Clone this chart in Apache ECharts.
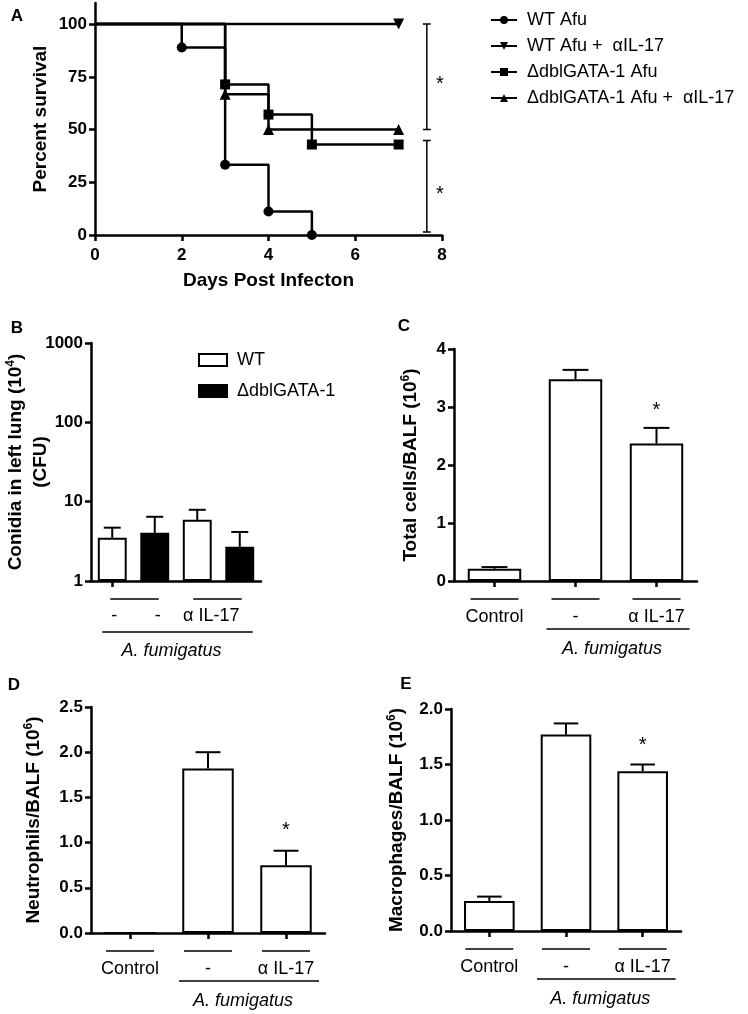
<!DOCTYPE html>
<html><head><meta charset="utf-8">
<script src="https://cdn.jsdelivr.net/npm/echarts@6/dist/echarts.min.js"></script>
<style>html,body{margin:0;padding:0;background:#fff}#c{width:748px;height:1014px}</style>
</head><body><div id="c"></div>
<script>
// ---------- DATA ----------
// Panel A: Kaplan-Meier survival (day, percent survival)
const survNames = ['WT Afu', 'WT Afu +  \u03B1IL-17', '\u0394dblGATA-1 Afu', '\u0394dblGATA-1 Afu +  \u03B1IL-17'];
const wtAfu = [[0, 100], [2, 88.9], [3, 33.3], [4, 11.1], [5, 0]];
const wtAfuAnti = [[0, 100], [7, 100]];
const gataAfu = [[0, 100], [3, 71.4], [4, 57.1], [5, 42.9], [7, 42.9]];
const gataAfuAnti = [[0, 100], [3, 66.7], [4, 50], [7, 50]];
const survXTicks = [0, 2, 4, 6, 8];
const survYTicks = [0, 25, 50, 75, 100];
const survBrackets = [[100, 50], [44.8, 1.4]]; // significance brackets (percent span)

// Panel B: conidia (log scale)
const cfuCats = ['WT -', 'GATA -', 'WT aIL-17', 'GATA aIL-17'];
const cfuWT = [3.5, null, 5.9, null];
const cfuGATA = [null, 4.05, null, 2.7];
const cfuErrTop = [4.7, 6.45, 7.9, 4.15];
const cfuLegend = ['WT', '\u0394dblGATA-1'];
const cfuTicks = [1, 10, 100, 1000];

// Panels C-E
const cellCats = ['Control', '-', '\u03B1 IL-17'];
const totalCells = [0.21, 3.48, 2.37];
const totalErrTop = [0.24, 3.64, 2.64];
const neutrophils = [0, 1.82, 0.75];
const neutErrTop = [0, 2.0, 0.91];
const macrophages = [0.27, 1.77, 1.44];
const macErrTop = [0.31, 1.87, 1.50];
const cellSig = [0, 0, 1];

// ---------- STYLE ----------
const F = '"Liberation Sans", Arial, Helvetica, sans-serif';
const AX = {show: true, lineStyle: {color: '#000', width: 2.5}};
const TICK = {show: true, length: 6, lineStyle: {color: '#000', width: 2.5}};
const TL = {color: '#000', fontFamily: F, fontWeight: 'bold', fontSize: 17};
const NAME = {color: '#000', fontFamily: F, fontWeight: 'bold', fontSize: 19};
const RICH = {
  t: {color: '#000', fontFamily: F, fontWeight: 'bold', fontSize: 19},
  s: {color: '#000', fontFamily: F, fontWeight: 'bold', fontSize: 12, padding: [0, 0, 10, 0]}
};

const chart = echarts.init(document.getElementById('c'), null, {renderer: 'canvas'});

const grids = [
  {left: 95, top: 3, width: 347, height: 232},
  {left: 91, top: 343, width: 170, height: 238},
  {left: 454, top: 349, width: 243, height: 232},
  {left: 91, top: 707, width: 234, height: 226},
  {left: 451, top: 709, width: 230, height: 222}
].map(g => Object.assign({containLabel: false, outerBoundsMode: 'none'}, g));

function valY(gi, min, max, interval, name, gap, fmt) {
  return {type: 'value', gridIndex: gi, min, max, interval,
    axisLine: AX, axisTick: TICK, splitLine: {show: false},
    axisLabel: Object.assign({margin: 8, formatter: fmt || (v => String(v))}, TL),
    name, nameLocation: 'middle', nameGap: gap, nameRotate: 90,
    nameTextStyle: {rich: RICH}};
}
function catX(gi, cats, showLabel) {
  return {type: 'category', gridIndex: gi, data: cats,
    axisLine: AX, axisTick: Object.assign({alignWithLabel: true}, TICK),
    axisLabel: {show: showLabel, margin: 27, color: '#000', fontFamily: F, fontSize: 18}};
}

const xAxes = [
  {type: 'value', gridIndex: 0, min: 0, max: 8, interval: 2,
   axisLine: AX, axisTick: TICK, splitLine: {show: false},
   axisLabel: Object.assign({margin: 12}, TL),
   name: 'Days Post Infecton', nameLocation: 'middle', nameGap: 36, nameTextStyle: NAME},
  catX(1, cfuCats, false),
  catX(2, cellCats, true),
  catX(3, cellCats, true),
  catX(4, cellCats, true)
];
const yAxes = [
  {type: 'value', gridIndex: 0, min: 0, max: 110,
   axisLine: AX, axisTick: Object.assign({customValues: survYTicks}, TICK), splitLine: {show: false},
   axisLabel: Object.assign({margin: 8, customValues: survYTicks}, TL),
   name: 'Percent survival', nameLocation: 'middle', nameGap: 45, nameRotate: 90, nameTextStyle: NAME},
  {type: 'log', logBase: 10, gridIndex: 1, min: 1, max: 1000,
   axisLine: AX, axisTick: TICK, splitLine: {show: false}, minorTick: {show: false},
   axisLabel: Object.assign({margin: 8, formatter: v => String(Math.round(v))}, TL),
   name: '{t|Conidia in left lung (10}{s|4}{t|)}\n{t|(CFU)}', nameLocation: 'middle', nameGap: 38, nameRotate: 90,
   nameMoveOverlap: false,
   nameTextStyle: {rich: RICH, lineHeight: 25}},
  valY(2, 0, 4, 1, '{t|Total cells/BALF (10}{s|6}{t|)}', 32),
  valY(3, 0, 2.5, 0.5, '{t|Neutrophils/BALF (10}{s|6}{t|)}', 46, v => v.toFixed(1)),
  valY(4, 0, 2, 0.5, '{t|Macrophages/BALF (10}{s|6}{t|)}', 43, v => v.toFixed(1))
];

// Kaplan-Meier series
const symbols = [['circle', 0, 10], ['triangle', 180, 11], ['rect', 0, 10], ['triangle', 0, 11]];
const kmSets = [wtAfu, wtAfuAnti, gataAfu, gataAfuAnti];
const series = [];
kmSets.forEach((set, k) => {
  series.push({
    type: 'line', name: survNames[k], xAxisIndex: 0, yAxisIndex: 0, step: 'end',
    symbol: symbols[k][0], symbolRotate: symbols[k][1], symbolSize: symbols[k][2],
    showAllSymbol: true, color: '#000', itemStyle: {color: '#000'},
    lineStyle: {color: '#000', width: 2.5}, z: 3,
    data: set.map((d, i) => i === 0 ? {value: d, symbol: 'none'} : d)
  });
});
// Significance brackets in panel A (drawn in data space)
const brX = 7.65, capHalf = 0.09;
survBrackets.forEach((b, k) => {
  series.push({
    type: 'line', name: 'bracket' + k, xAxisIndex: 0, yAxisIndex: 0, symbol: 'none',
    lineStyle: {color: '#000', width: 1.5}, silent: true,
    data: [[brX - capHalf, b[0]], [brX + capHalf, b[0]], [brX, b[0]], [brX, b[1]], [brX - capHalf, b[1]], [brX + capHalf, b[1]]]
  });
});

// Error bar renderer
function errRenderer(capFrac, starGap) {
  return function (params, api) {
    const i = api.value(0), v = api.value(1), e = api.value(2), s = api.value(3);
    if (!(e > v)) return;
    const p0 = api.coord([i, v]), p1 = api.coord([i, e]);
    const band = Math.abs(api.coord([1, e])[0] - api.coord([0, e])[0]);
    const hw = band * capFrac / 2;
    const children = [
      {type: 'line', shape: {x1: p0[0], y1: p0[1], x2: p1[0], y2: p1[1]}, style: {stroke: '#000', lineWidth: 2}},
      {type: 'line', shape: {x1: p1[0] - hw, y1: p1[1], x2: p1[0] + hw, y2: p1[1]}, style: {stroke: '#000', lineWidth: 2}}
    ];
    if (s) {
      children.push({type: 'text', x: p1[0], y: p1[1] - starGap,
        style: {text: '*', fill: '#000', font: '20px ' + F, textAlign: 'center', textVerticalAlign: 'middle', verticalAlign: 'middle'}});
    }
    return {type: 'group', children};
  };
}

// Panel B bars
const barStyleW = {color: '#fff', borderColor: '#000', borderWidth: 2};
const barStyleB = {color: '#000', borderColor: '#000', borderWidth: 2};
series.push({type: 'bar', name: cfuLegend[0], xAxisIndex: 1, yAxisIndex: 1, barWidth: '68%', barGap: '-100%',
  itemStyle: barStyleW, data: cfuWT.map(v => v == null ? '-' : v)});
series.push({type: 'bar', name: cfuLegend[1], xAxisIndex: 1, yAxisIndex: 1, barWidth: '68%', barGap: '-100%',
  itemStyle: barStyleB, data: cfuGATA.map(v => v == null ? '-' : v)});
series.push({type: 'custom', name: 'errB', xAxisIndex: 1, yAxisIndex: 1, z: 5,
  renderItem: errRenderer(0.4, 0),
  data: cfuErrTop.map((e, i) => [i, cfuWT[i] != null ? cfuWT[i] : cfuGATA[i], e, 0])});

// Panels C-E
[[totalCells, totalErrTop, 2, 17], [neutrophils, neutErrTop, 3, 20], [macrophages, macErrTop, 4, 19]].forEach(([vals, errs, ai, sg]) => {
  series.push({type: 'bar', name: 'bars' + ai, xAxisIndex: ai, yAxisIndex: ai, barWidth: '66%',
    itemStyle: barStyleW, data: vals});
  series.push({type: 'custom', name: 'err' + ai, xAxisIndex: ai, yAxisIndex: ai, z: 5,
    renderItem: errRenderer(0.32, sg),
    data: vals.map((v, i) => [i, v, errs[i], cellSig[i]])});
});

chart.setOption({
  animation: false,
  backgroundColor: '#fff',
  grid: grids,
  xAxis: xAxes,
  yAxis: yAxes,
  legend: [
    {data: survNames, orient: 'vertical', left: 490, top: 11, padding: 0, itemWidth: 26, itemHeight: 10, itemGap: 8,
     selectedMode: false, textStyle: {color: '#000', fontFamily: F, fontSize: 18, padding: [0, 0, 0, 5]}},
    {data: cfuLegend, orient: 'vertical', left: 198, top: 351, padding: 0, itemWidth: 28, itemHeight: 12, itemGap: 13,
     icon: 'rect', selectedMode: false, textStyle: {color: '#000', fontFamily: F, fontSize: 18, padding: [0, 0, 0, 5]}}
  ],
  series
});

// ---------- Annotations derived from the axes ----------
const G = [];
function txt(x, y, text, font, align) {
  G.push({type: 'text', x, y, silent: true,
    style: {text, fill: '#000', font, textAlign: align || 'center', textVerticalAlign: 'middle', verticalAlign: 'middle'}});
}
function ln(x1, y1, x2, y2, w) {
  G.push({type: 'line', silent: true, shape: {x1, y1, x2, y2}, style: {stroke: '#000', lineWidth: w || 1.5}});
}
const px = (gi, xv, yv) => chart.convertToPixel({gridIndex: gi}, [xv, yv]);
const bold16 = 'bold 17px ' + F, reg18 = '18px ' + F, reg20 = '20px ' + F, it18 = 'italic 18px ' + F;

// Panel letters
txt(17, 16, 'A', bold16); txt(17, 328, 'B', bold16); txt(404, 326, 'C', bold16);
txt(14, 685, 'D', bold16); txt(406, 684, 'E', bold16);

// Panel A stars
survBrackets.forEach(b => {
  const p = px(0, brX, (b[0] + b[1]) / 2);
  txt(p[0] + 13, p[1] + 8, '*', reg20);
});

// Panel B category decorations
{
  const base = px(1, 0, 1)[1];
  const xs = cfuCats.map((c, i) => px(1, i, 1)[0]);
  ln(xs[0] - 2, base + 18, xs[1] + 4, base + 18);
  ln(xs[2] - 4, base + 18, xs[3] + 2, base + 18);
  txt(xs[0] + 2, base + 35, '-', reg18);
  txt(xs[1] + 3, base + 35, '-', reg18);
  txt(xs[2] + (xs[3] - xs[2]) * 0.33, base + 35, '\u03B1 IL-17', reg18);
  const l1 = xs[0] - 10, l2 = xs[3] + 13;
  ln(l1, base + 51, l2, base + 51);
  txt((l1 + l2) / 2 - 6, base + 70, 'A. fumigatus', it18);
}
// Panels C-E decorations
[2, 3, 4].forEach(gi => {
  const base = px(gi, 0, 0)[1];
  const xs = cellCats.map((c, i) => px(gi, i, 0)[0]);
  xs.forEach(x => ln(x - 24, base + 18, x + 24, base + 18));
  const l1 = xs[1] - 29, l2 = xs[2] + 33;
  ln(l1, base + 48, l2, base + 48);
  txt((l1 + l2) / 2 - 6, base + 68, 'A. fumigatus', it18);
});

chart.setOption({graphic: G});
</script>
</body></html>
